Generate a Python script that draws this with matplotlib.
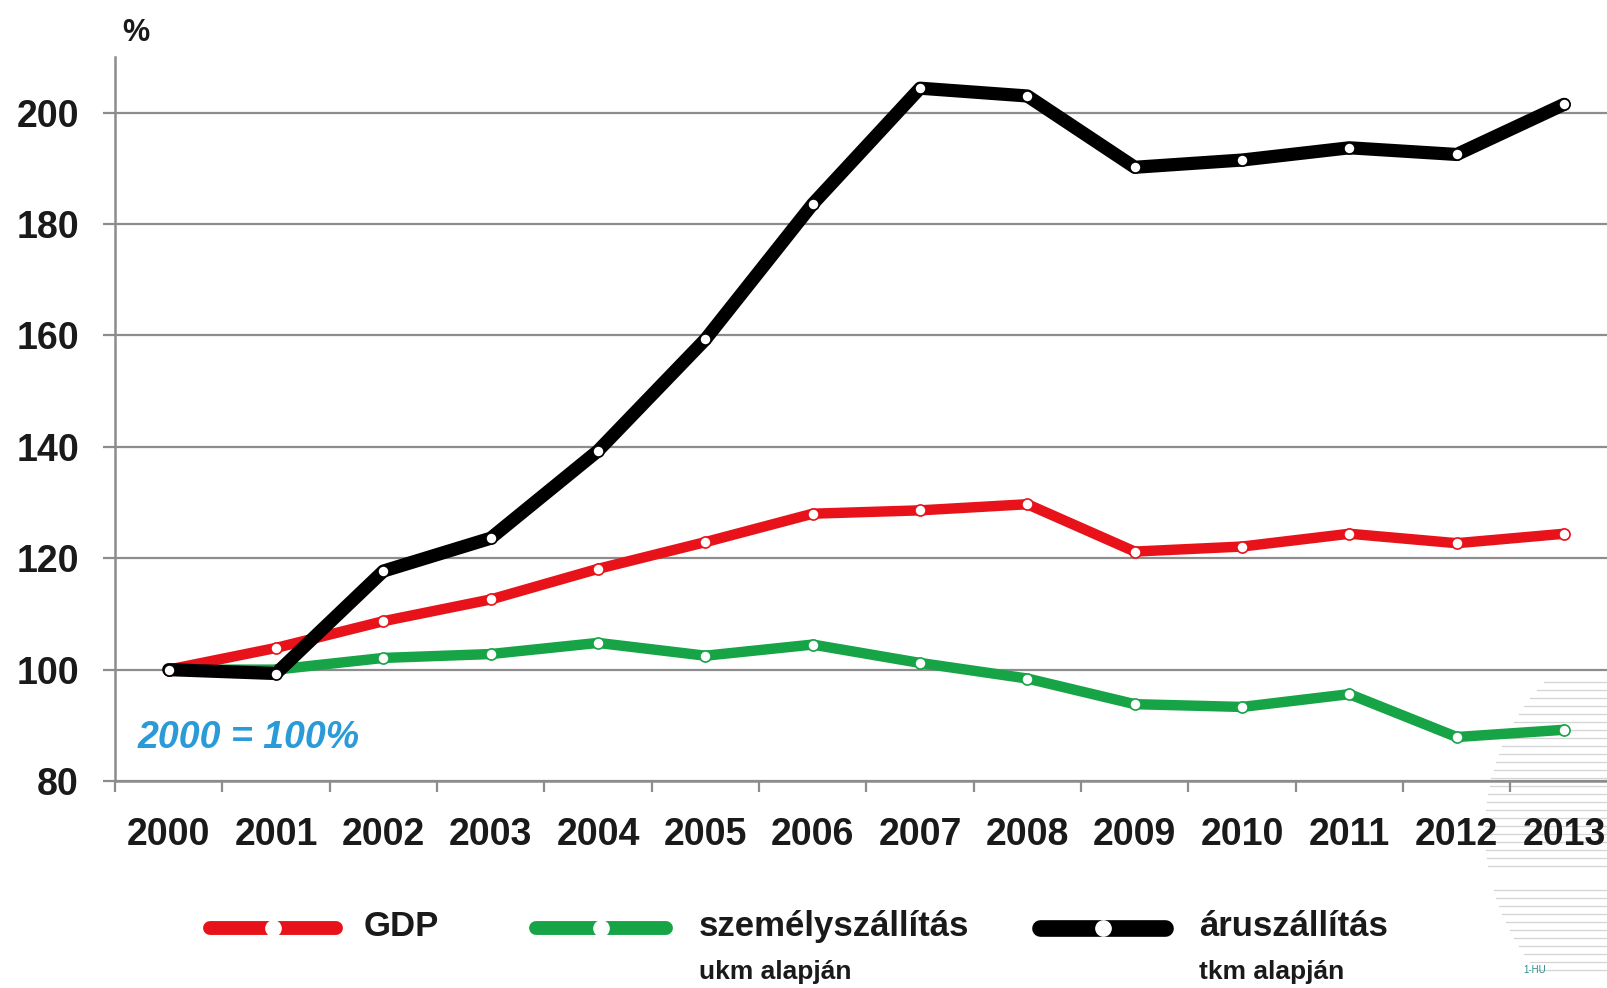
import matplotlib.pyplot as plt
import numpy as np
from matplotlib.lines import Line2D

plt.rcParams['font.family'] = ['Liberation Sans', 'DejaVu Sans']

years = ['2000', '2001', '2002', '2003', '2004', '2005', '2006',
         '2007', '2008', '2009', '2010', '2011', '2012', '2013']
gdp = [100, 103.9, 108.7, 112.6, 118.1, 122.9, 128.0,
       128.6, 129.7, 121.2, 122.1, 124.4, 122.7, 124.4]
szemely = [100, 100.0, 102.1, 102.8, 104.8, 102.5, 104.5,
           101.2, 98.4, 93.8, 93.3, 95.6, 87.9, 89.2]
aru = [100, 99.3, 117.7, 123.6, 139.3, 159.3, 183.6,
       204.4, 203.0, 190.2, 191.5, 193.7, 192.5, 201.5]

series = [
    ('személyszállítás', 'ukm alapján', szemely, '#16a447', 7.5),
    ('GDP', None, gdp, '#e8131a', 7.5),
    ('áruszállítás', 'tkm alapján', aru, '#000000', 9.5),
]
grid_col = '#8c8c8c'

fig = plt.figure(figsize=(16.07, 9.88), dpi=100)
W, H = 1607.0, 988.0

# faint striped logo in the lower right corner (background decoration)
for yp in np.arange(682, 975, 8):
    if 866 < yp < 890:
        continue
    dy = min(abs(yp - 830), 214)
    xl = 1700 - np.sqrt(215 ** 2 - dy ** 2)
    fig.add_artist(Line2D([xl / W, 1], [1 - yp / H] * 2, transform=fig.transFigure,
                          color='#d4d4d4', lw=0.9, zorder=-1))

ax = fig.add_axes([0.0716, 0.2095, 0.9284, 0.7328])
ax.set_facecolor('none')

x = np.arange(len(years))
for name, sub, vals, col, lw in series:
    ax.plot(x, vals, color=col, lw=lw, solid_capstyle='round',
            solid_joinstyle='round', marker='o', markersize=8,
            markerfacecolor='white', markeredgecolor=col, markeredgewidth=1.2,
            zorder=3)

ax.set_xlim(-0.48, 13.4)
ax.set_ylim(80, 210)
ax.set_yticks(range(80, 201, 20))
ax.yaxis.grid(True, color=grid_col, lw=1.6)
ax.set_axisbelow(True)
ax.set_xticks(x)
ax.set_xticklabels(years)
ax.set_xticks(np.arange(-0.5, 13.5, 1), minor=True)
ax.tick_params(axis='x', which='major', length=0, pad=26, labelsize=27)
ax.tick_params(axis='x', which='minor', length=8, width=1.6, color=grid_col, direction='out')
ax.tick_params(axis='y', length=9, width=1.6, color=grid_col, pad=17, labelsize=27)
for lab in ax.get_xticklabels() + ax.get_yticklabels():
    lab.set_fontweight('bold')
    lab.set_color('#1a1a1a')

for s in ['top', 'right']:
    ax.spines[s].set_visible(False)
for s in ['left', 'bottom']:
    ax.spines[s].set_color(grid_col)
    ax.spines[s].set_linewidth(1.8)

fig.text(0.076, 0.967, '%', fontsize=22, fontweight='bold', color='#1a1a1a', va='center')
ax.text(-0.29, 87.7, '2000 = 100%', fontsize=27, fontweight='bold', style='italic',
        color='#2a9ad8', va='center', ha='left')

# legend
legend_pos = {'GDP': (210, 336, 364), 'személyszállítás': (536, 666, 699),
              'áruszállítás': (1040, 1165, 1199)}
for name, sub, vals, col, lw in series:
    x0, x1, xt = legend_pos[name]
    yl = 1 - 928 / H
    fig.add_artist(Line2D([x0 / W, x1 / W], [yl, yl], transform=fig.transFigure,
                          color=col, lw=lw + 2.5, solid_capstyle='round'))
    fig.add_artist(Line2D([(x0 + x1) / 2 / W], [yl], transform=fig.transFigure,
                          marker='o', markersize=11, markerfacecolor='white',
                          markeredgecolor='white', ls='none'))
    fig.text(xt / W, 1 - 926 / H, name, fontsize=25, fontweight='bold',
             color='#1a1a1a', va='center', ha='left')
    if sub:
        fig.text(xt / W, 1 - 972 / H, sub, fontsize=19, fontweight='bold',
                 color='#1a1a1a', va='center', ha='left')

fig.text(0.948, 0.018, '1-HU', fontsize=7, color='#2a8c8c', ha='left', va='center')

fig.savefig('out.png', dpi=100, facecolor='white')
